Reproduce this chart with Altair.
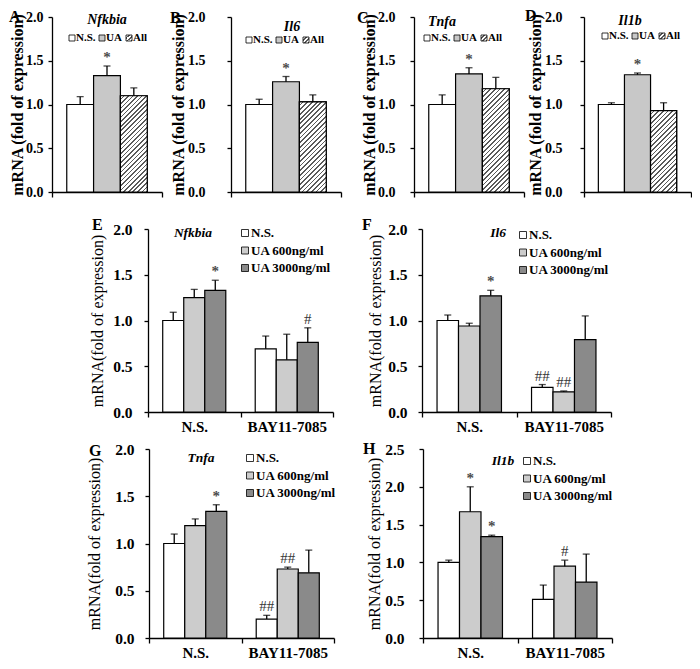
import altair as alt
import pandas as pd

FONT = "Liberation Serif"

# ---------------- data ----------------
TOP_TREATMENTS = ["N.S.", "UA", "All"]
BOTTOM_GROUPS = ["N.S.", "BAY11-7085"]
BOTTOM_TREATMENTS = ["N.S.", "UA 600ng/ml", "UA 3000ng/ml"]

A_GENE, B_GENE, C_GENE, D_GENE = "Nfkbia", "Il6", "Tnfa", "Il1b"
E_GENE, F_GENE, G_GENE, H_GENE = "Nfkbia", "Il6", "Tnfa", "Il1b"

A_MEAN = [1.00, 1.33, 1.10]
A_ERR = [0.09, 0.11, 0.09]
A_SIG = ["", "*", ""]

B_MEAN = [1.00, 1.26, 1.03]
B_ERR = [0.06, 0.06, 0.08]
B_SIG = ["", "*", ""]

C_MEAN = [1.00, 1.35, 1.18]
C_ERR = [0.11, 0.07, 0.13]
C_SIG = ["", "*", ""]

D_MEAN = [1.00, 1.34, 0.93]
D_ERR = [0.02, 0.02, 0.09]
D_SIG = ["", "*", ""]

# order: N.S. group (N.S., UA600, UA3000), BAY group (N.S., UA600, UA3000)
E_MEAN = [1.00, 1.25, 1.33, 0.69, 0.57, 0.76]
E_ERR = [0.09, 0.09, 0.11, 0.14, 0.28, 0.16]
E_SIG = ["", "", "*", "", "", "#"]

F_MEAN = [1.00, 0.94, 1.27, 0.27, 0.22, 0.79]
F_ERR = [0.06, 0.03, 0.06, 0.03, 0.01, 0.26]
F_SIG = ["", "", "*", "##", "##", ""]

G_MEAN = [1.00, 1.19, 1.34, 0.20, 0.73, 0.69]
G_ERR = [0.10, 0.07, 0.07, 0.04, 0.02, 0.24]
G_SIG = ["", "", "*", "##", "##", ""]

H_MEAN = [1.00, 1.67, 1.34, 0.51, 0.95, 0.74]
H_ERR = [0.03, 0.33, 0.02, 0.19, 0.08, 0.37]
H_SIG = ["", "*", "*", "", "#", ""]

# ---------------- styles ----------------
WHITE = "#ffffff"
TOP_GRAY = "#c8c8c8"
LIGHT = "#cccccc"
DARK = "#8a8a8a"


def hatch(w, h, period=4.6, frac=0.36, bg="#ffffff", fg="#5a5a5a"):
    """Diagonal '/' stripes as a hard-stop linear gradient (bbox units)."""
    k = (w + h) / (w * w + h * h)
    n = max(1, int(round((w + h) / period)))
    stops = []
    for i in range(n):
        a = i / n
        b = (i + 1 - frac) / n
        c = (i + 1) / n
        stops += [{"offset": a, "color": bg}, {"offset": b, "color": bg},
                  {"offset": b, "color": fg}, {"offset": c, "color": fg}]
    return {"gradient": "linear", "x1": 0, "y1": 0, "x2": k * w, "y2": k * h,
            "stops": stops}


def top_df(mean, err, sig):
    df = pd.DataFrame({"group": ["all"] * 3, "treatment": TOP_TREATMENTS,
                       "mean": mean, "err": err, "sig": sig})
    df["upper"] = df["mean"] + df["err"]
    return df


def bottom_df(mean, err, sig):
    df = pd.DataFrame({
        "group": [g for g in BOTTOM_GROUPS for _ in BOTTOM_TREATMENTS],
        "treatment": BOTTOM_TREATMENTS * len(BOTTOM_GROUPS),
        "mean": mean, "err": err, "sig": sig})
    df["upper"] = df["mean"] + df["err"]
    return df


def text_layer(txt, x, y, size, weight="bold", style="normal", align="left",
               color="black"):
    return alt.Chart(pd.DataFrame({"t": [txt]})).mark_text(
        font=FONT, fontSize=size, fontWeight=weight, fontStyle=style,
        align=align, baseline="middle", color=color
    ).encode(x=alt.value(x), y=alt.value(y), text="t:N")


def frame_layer(W, H, frame):
    """Invisible rectangle fixing the panel's footprint in the concat layout."""
    L, R, T, B = frame
    return alt.Chart(pd.DataFrame({"f": [0]})).mark_rect(
        opacity=0, fill="white").encode(
        x=alt.value(-L), x2=alt.value(W + R),
        y=alt.value(-T), y2=alt.value(H + B))


def panel(df, groups, treatments, fills, cfg, legend_fills):
    W, H, ymax = cfg["w"], cfg["h"], cfg["ymax"]
    ticks = [i * 0.5 for i in range(int(round(ymax / 0.5)) + 1)]
    yaxis = alt.Axis(values=ticks, format=".1f", tickSize=4,
                     labelPadding=cfg["label_pad"], labelFont=FONT,
                     labelFontSize=cfg["label_size"], labelFontWeight="bold",
                     title=cfg["ytitle"], titleFont=FONT, titleFontSize=16,
                     titleFontWeight=cfg["ytitle_weight"], titleX=cfg["title_x"],
                     titleBaseline="middle", titleAngle=270, titleAlign="center")
    xaxis = alt.Axis(title=None, labels=cfg["xlabels"], tickSize=5,
                     tickBand="extent", labelFont=FONT, labelFontSize=15,
                     labelFontWeight="bold", labelPadding=2, labelAngle=0)
    xs = alt.X("group:N", scale=alt.Scale(domain=groups, paddingInner=0,
                                          paddingOuter=0), axis=xaxis)
    xo = alt.XOffset("treatment:N", scale=alt.Scale(
        domain=treatments, paddingInner=0, paddingOuter=cfg["pad_outer"]))

    def y(field):
        return alt.Y(f"{field}:Q", scale=alt.Scale(domain=[0, ymax], nice=False),
                     axis=yaxis)

    layers = [frame_layer(W, H, cfg["frame"])]
    base = alt.Chart(df).encode(x=xs, xOffset=xo)
    layers.append(
        base.mark_bar(stroke="black", strokeWidth=1.2).encode(
            y=y("mean"),
            fill=alt.Fill("treatment:N", scale=alt.Scale(domain=treatments,
                                                         range=fills),
                          legend=None)))
    if cfg.get("hatch"):
        sub = df[df["treatment"] == "All"]
        bar_w = W / (len(groups) * (len(treatments) + 2 * cfg["pad_outer"]))
        bar_h = float(sub["mean"].iloc[0]) / ymax * H
        layers.append(alt.Chart(sub).mark_bar(
            stroke="black", strokeWidth=1.2, fill=hatch(bar_w, bar_h)
        ).encode(x=xs, xOffset=xo, y=y("mean")))
    layers += [
        base.mark_rule(color="black", strokeWidth=1.3).encode(
            y=y("mean"), y2="upper:Q"),
        base.mark_tick(orient="horizontal", color="black", size=7,
                       thickness=1.3).encode(y=y("upper")),
        # significance marks: asterisks bold, hashes regular
        base.transform_filter(alt.datum.sig == "*").mark_text(
            font=FONT, fontSize=cfg["sig_size"], fontWeight="bold",
            color="#4a4a4a", opacity=0.99, baseline="bottom", dy=-1).encode(
            y=y("upper"), text="sig:N"),
        base.transform_filter(alt.datum.sig != "*").mark_text(
            font=FONT, fontSize=cfg["sig_size"], color="#333333", opacity=0.99,
            baseline="bottom", dy=-1).encode(
            y=y("upper"), text="sig:N"),
        text_layer(cfg["gene"], cfg["gene_xy"][0], cfg["gene_xy"][1],
                   cfg["gene_size"], style="italic", align="center"),
        text_layer(cfg["letter"], cfg["letter_xy"][0], cfg["letter_xy"][1], 16),
    ]
    # legend
    for i, (lab, fill) in enumerate(zip(treatments, legend_fills)):
        lx = cfg["leg_x"][i]
        ly = cfg["leg_y"][i]
        layers.append(alt.Chart(pd.DataFrame({"t": [lab]})).mark_square(
            size=cfg["leg_sq"] ** 2, stroke="black", strokeWidth=0.8,
            fill=fill, opacity=1).encode(x=alt.value(lx), y=alt.value(ly)))
        layers.append(text_layer(lab, lx + cfg["leg_dx"], ly,
                                 cfg["leg_font"]))
    return alt.layer(*layers).properties(width=W, height=H)


TOP_BASE = dict(h=175, ymax=2.0, pad_outer=0.55, label_size=14,
                ytitle="mRNA (fold of expression)", ytitle_weight="bold",
                xlabels=False, sig_size=15, gene_size=14, hatch=True,
                leg_sq=6, leg_dx=4, leg_font=11)
BOT_BASE = dict(pad_outer=0.7, label_size=15.5,
                ytitle="mRNA(fold of expression)", ytitle_weight="normal",
                xlabels=True, sig_size=15, gene_size=13.5, hatch=False,
                leg_sq=7, leg_dx=6, leg_font=13)


def top_cfg(gene, letter, w, label_pad, title_x, letter_xy, gene_xy, leg_x0,
            leg_y, frame):
    c = dict(TOP_BASE)
    c.update(gene=gene, letter=letter, w=w, label_pad=label_pad,
             title_x=title_x, letter_xy=letter_xy, gene_xy=gene_xy, frame=frame,
             leg_x=[leg_x0, leg_x0 + 30, leg_x0 + 57], leg_y=[leg_y] * 3)
    return c


def bot_cfg(gene, letter, w, h, ymax, label_pad, title_x, letter_xy, gene_xy,
            leg_x, leg_y0, frame):
    c = dict(BOT_BASE)
    c.update(gene=gene, letter=letter, w=w, h=h, ymax=ymax, label_pad=label_pad,
             title_x=title_x, letter_xy=letter_xy, gene_xy=gene_xy, frame=frame,
             leg_x=[leg_x] * 3, leg_y=[leg_y0, leg_y0 + 17.5, leg_y0 + 35])
    return c


top_fills = [WHITE, TOP_GRAY, WHITE]
top_leg = [WHITE, TOP_GRAY, hatch(6, 6, period=4.2)]
bot_fills = [WHITE, LIGHT, DARK]

# frames: (left, right, top, bottom) extents around each plot area
pA = panel(top_df(A_MEAN, A_ERR, A_SIG), ["all"], TOP_TREATMENTS, top_fills,
           top_cfg(A_GENE, "A", 110, 5, -35, (-43, 0), (55, 3), 20, 21,
                   (44, 7, 4, 23)), top_leg)
pB = panel(top_df(B_MEAN, B_ERR, B_SIG), ["all"], TOP_TREATMENTS, top_fills,
           top_cfg(B_GENE, "B", 110, 22, -53, (-61, 1), (61, 10), 18, 23,
                   (62, 13, 4, 23)), top_leg)
pC = panel(top_df(C_MEAN, C_ERR, C_SIG), ["all"], TOP_TREATMENTS, top_fills,
           top_cfg(C_GENE, "C", 110, 15, -45, (-57, 1), (28, 5), 13, 21,
                   (60, 1, 4, 23)), top_leg)
pD = panel(top_df(D_MEAN, D_ERR, D_SIG), ["all"], TOP_TREATMENTS, top_fills,
           top_cfg(D_GENE, "D", 107, 18, -49, (-59, -1), (46, 4), 21, 19,
                   (59, 1, 4, 23)), top_leg)

pE = panel(bottom_df(E_MEAN, E_ERR, E_SIG), BOTTOM_GROUPS, BOTTOM_TREATMENTS,
           bot_fills, bot_cfg(E_GENE, "E", 185, 183, 2.0, 12, -51, (-56, -4),
                              (45, 4), 97, 4, (62, 27, 14, 23)), bot_fills)
pF = panel(bottom_df(F_MEAN, F_ERR, F_SIG), BOTTOM_GROUPS, BOTTOM_TREATMENTS,
           bot_fills, bot_cfg(F_GENE, "F", 189, 183, 2.0, 11, -47, (-60, -4),
                              (76, 4), 101, 6, (62, 5, 14, 23)), bot_fills)
pG = panel(bottom_df(G_MEAN, G_ERR, G_SIG), BOTTOM_GROUPS, BOTTOM_TREATMENTS,
           bot_fills, bot_cfg(G_GENE, "G", 185, 189, 2.0, 11, -55, (-60, 2),
                              (52, 9), 101, 9, (62, 27, 14, 22)), bot_fills)
pH = panel(bottom_df(H_MEAN, H_ERR, H_SIG), BOTTOM_GROUPS, BOTTOM_TREATMENTS,
           bot_fills, bot_cfg(H_GENE, "H", 189, 189, 2.5, 15, -49, (-60, 0),
                              (80, 12), 104, 12, (62, 5, 14, 22)), bot_fills)


def spacer(w, h):
    return frame_layer(w, h, (0, 0, 0, 0)).properties(width=w, height=h)


IND = dict(xOffset="independent", fill="independent")
row1 = alt.hconcat(pA, pB, pC, pD, spacing=0).resolve_scale(**IND)
row2 = alt.hconcat(spacer(34, 10), pE, pF, spacing=0).resolve_scale(**IND)
row3 = alt.hconcat(spacer(34, 10), pG, pH, spacing=0).resolve_scale(**IND)

chart = alt.vconcat(row1, row2, row3, spacing=0).resolve_scale(**IND).properties(
    padding=0
).configure_view(stroke=None).configure_axis(
    grid=False, domainColor="black", tickColor="black", labelColor="black",
    titleColor="black", domainWidth=1.3, tickWidth=1.3
)

chart.save("out.html", embed_options={"renderer": "svg", "actions": False})
